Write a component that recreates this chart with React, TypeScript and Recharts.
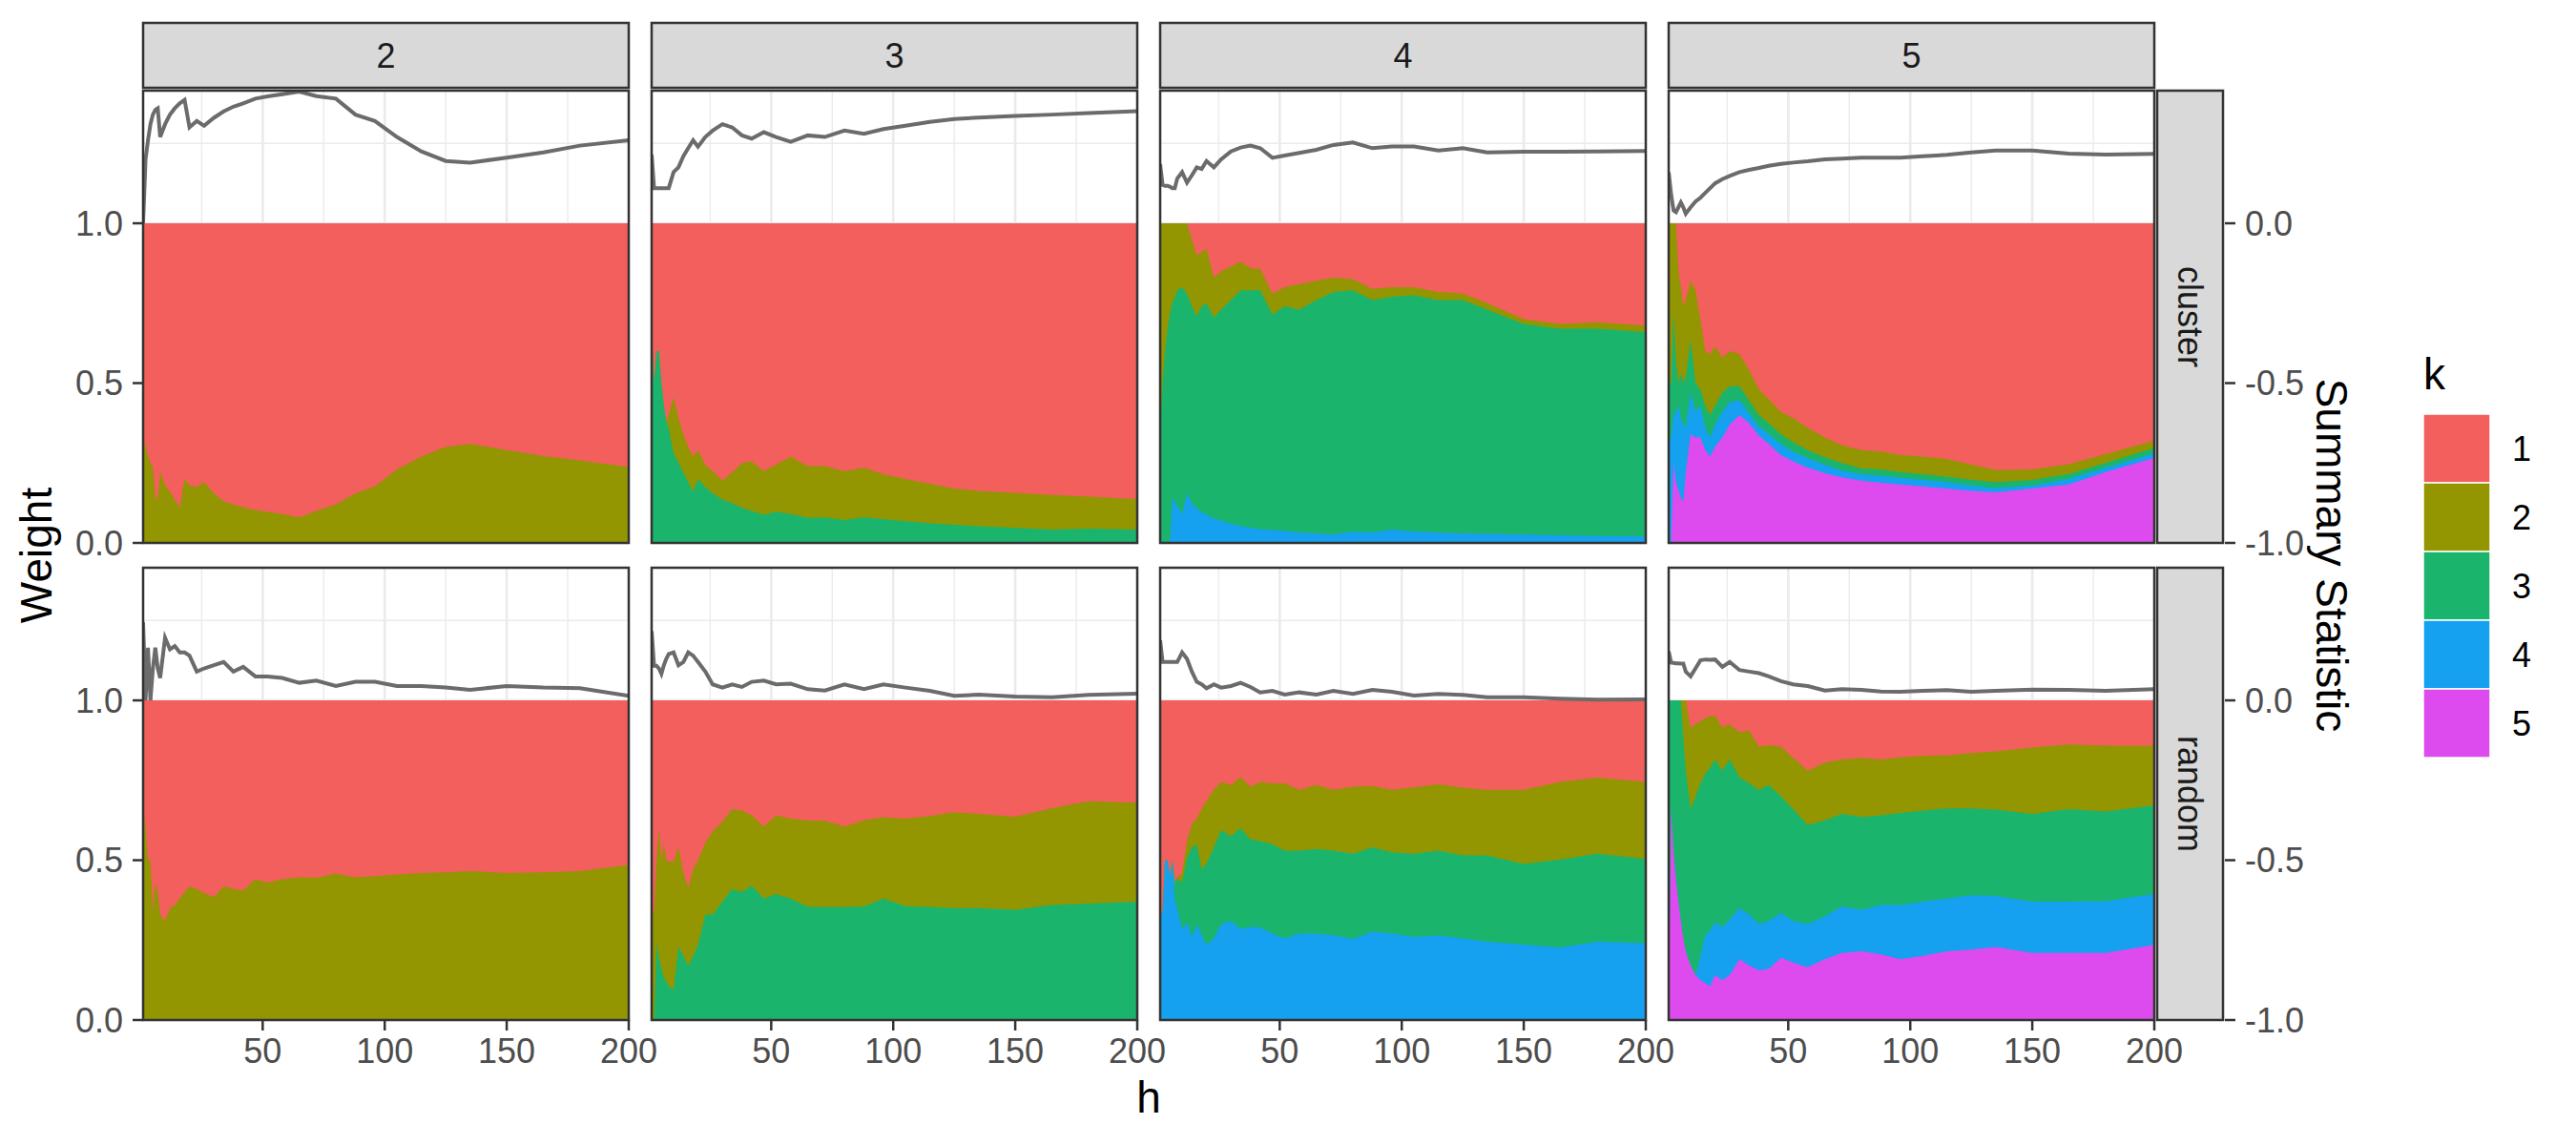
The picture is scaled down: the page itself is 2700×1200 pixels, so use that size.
import { Area, CartesianGrid, ComposedChart, Line, XAxis, YAxis } from "recharts";

// h values sampled along each curve
const hValues = [1, 2, 3, 4, 5, 6, 7, 8, 10, 12, 14, 16, 18, 20, 23, 26, 30, 34, 38, 42, 47, 52, 58, 65, 72, 80, 88, 96, 105, 115, 125, 135, 150, 165, 180, 200];

const facetModels = [2, 3, 4, 5];
const designs = ["cluster", "random"];
const kLevels = ["1", "2", "3", "4", "5"];
const kColors = ["#F25F5C", "#939600", "#1BB46C", "#16A0F0", "#DD4BEE"];

const weightTicks = [0, 0.5, 1];
const statTicks = [-1, -0.5, 0];
const hTicks = [50, 100, 150, 200];

// cumulative weight of k >= j (top edge of layer j), per design and model count
const cluster2Cum2 = [0.337, 0.3, 0.27, 0.25, 0.235, 0.143, 0.135, 0.223, 0.18, 0.16, 0.135, 0.11, 0.2, 0.18, 0.175, 0.19, 0.155, 0.13, 0.12, 0.112, 0.103, 0.097, 0.09, 0.08, 0.1, 0.12, 0.155, 0.177, 0.23, 0.27, 0.3, 0.31, 0.29, 0.272, 0.258, 0.237];
const cluster2Stat = [0.0, 0.2, 0.26, 0.31, 0.34, 0.355, 0.36, 0.27, 0.31, 0.34, 0.36, 0.375, 0.386, 0.3, 0.32, 0.305, 0.33, 0.35, 0.365, 0.375, 0.39, 0.397, 0.404, 0.412, 0.398, 0.39, 0.34, 0.32, 0.27, 0.225, 0.195, 0.19, 0.205, 0.222, 0.243, 0.26];

const cluster3Cum2 = [0.666, 0.5, 0.6, 0.6, 0.5, 0.43, 0.38, 0.4, 0.455, 0.39, 0.34, 0.3, 0.27, 0.29, 0.245, 0.225, 0.195, 0.22, 0.25, 0.255, 0.225, 0.245, 0.27, 0.24, 0.24, 0.225, 0.235, 0.215, 0.2, 0.185, 0.17, 0.163, 0.157, 0.15, 0.145, 0.137];
const cluster3Cum3 = [0.666, 0.5, 0.6, 0.6, 0.5, 0.43, 0.38, 0.36, 0.28, 0.25, 0.22, 0.19, 0.16, 0.2, 0.175, 0.155, 0.135, 0.125, 0.11, 0.1, 0.088, 0.098, 0.09, 0.078, 0.08, 0.072, 0.08, 0.075, 0.068, 0.062, 0.057, 0.052, 0.047, 0.042, 0.045, 0.042];
const cluster3Stat = [0.215, 0.11, 0.11, 0.11, 0.11, 0.11, 0.11, 0.11, 0.16, 0.175, 0.21, 0.235, 0.26, 0.24, 0.27, 0.29, 0.31, 0.3, 0.275, 0.265, 0.285, 0.27, 0.255, 0.275, 0.27, 0.29, 0.28, 0.295, 0.305, 0.317, 0.326, 0.331, 0.336, 0.34, 0.345, 0.351];

const cluster4Cum2 = [1, 1, 1, 1, 1, 1, 1, 1, 1, 1, 0.95, 0.9, 0.91, 0.92, 0.83, 0.85, 0.865, 0.88, 0.86, 0.857, 0.78, 0.8, 0.81, 0.82, 0.83, 0.825, 0.795, 0.8, 0.8, 0.785, 0.78, 0.75, 0.7, 0.685, 0.69, 0.68];
const cluster4Cum3 = [0.33, 0.5, 0.6, 0.67, 0.72, 0.75, 0.77, 0.79, 0.8, 0.78, 0.74, 0.71, 0.74, 0.75, 0.705, 0.73, 0.76, 0.79, 0.79, 0.79, 0.715, 0.74, 0.73, 0.76, 0.785, 0.79, 0.76, 0.77, 0.775, 0.76, 0.76, 0.73, 0.685, 0.67, 0.67, 0.66];
const cluster4Cum4 = [0, 0, 0, 0, 0, 0.142, 0.13, 0.115, 0.09, 0.154, 0.125, 0.108, 0.097, 0.088, 0.076, 0.07, 0.06, 0.053, 0.047, 0.043, 0.04, 0.037, 0.033, 0.03, 0.026, 0.035, 0.033, 0.042, 0.036, 0.032, 0.03, 0.028, 0.026, 0.024, 0.022, 0.02];
const cluster4Stat = [0.185, 0.12, 0.117, 0.117, 0.115, 0.11, 0.11, 0.14, 0.16, 0.127, 0.15, 0.175, 0.17, 0.195, 0.175, 0.2, 0.225, 0.237, 0.243, 0.235, 0.205, 0.212, 0.22, 0.23, 0.245, 0.253, 0.235, 0.24, 0.24, 0.228, 0.235, 0.222, 0.224, 0.224, 0.225, 0.226];

const cluster5Cum2 = [1, 1, 1, 1, 0.85, 0.8, 0.74, 0.76, 0.82, 0.79, 0.7, 0.6, 0.59, 0.615, 0.58, 0.6, 0.59, 0.54, 0.48, 0.45, 0.41, 0.39, 0.36, 0.33, 0.305, 0.29, 0.286, 0.275, 0.27, 0.262, 0.245, 0.228, 0.23, 0.246, 0.278, 0.32];
const cluster5Cum3 = [0.5, 0.5, 0.72, 0.57, 0.5, 0.53, 0.5, 0.52, 0.635, 0.5, 0.48, 0.43, 0.4, 0.43, 0.47, 0.49, 0.49, 0.445, 0.4, 0.375, 0.34, 0.315, 0.29, 0.268, 0.25, 0.233, 0.23, 0.222, 0.215, 0.207, 0.198, 0.19, 0.197, 0.216, 0.25, 0.297];
const cluster5Cum4 = [0.33, 0.33, 0.4, 0.41, 0.43, 0.39, 0.37, 0.36, 0.47, 0.41, 0.43, 0.36, 0.33, 0.37, 0.41, 0.44, 0.446, 0.405, 0.365, 0.34, 0.31, 0.285, 0.265, 0.245, 0.227, 0.215, 0.21, 0.204, 0.198, 0.19, 0.18, 0.172, 0.18, 0.2, 0.235, 0.28];
const cluster5Cum5 = [0, 0, 0.25, 0.19, 0.165, 0.14, 0.13, 0.22, 0.34, 0.33, 0.33, 0.29, 0.27, 0.3, 0.33, 0.37, 0.4, 0.375, 0.335, 0.31, 0.275, 0.255, 0.235, 0.218, 0.205, 0.195, 0.188, 0.183, 0.177, 0.17, 0.163, 0.158, 0.17, 0.183, 0.222, 0.266];
const cluster5Stat = [0.16, 0.09, 0.04, 0.035, 0.05, 0.065, 0.05, 0.03, 0.05, 0.068, 0.08, 0.095, 0.11, 0.125, 0.138, 0.148, 0.16, 0.167, 0.173, 0.18, 0.186, 0.19, 0.194, 0.2, 0.202, 0.205, 0.205, 0.205, 0.21, 0.214, 0.222, 0.228, 0.228, 0.218, 0.215, 0.217];

const random2Cum2 = [0.669, 0.6, 0.5, 0.5, 0.34, 0.43, 0.4, 0.33, 0.31, 0.35, 0.36, 0.38, 0.4, 0.418, 0.41, 0.397, 0.384, 0.418, 0.41, 0.405, 0.44, 0.43, 0.44, 0.446, 0.445, 0.458, 0.446, 0.45, 0.455, 0.46, 0.462, 0.466, 0.46, 0.462, 0.466, 0.485];
const random2Stat = [0.245, 0.0, 0.165, 0.0, 0.1, 0.165, 0.1, 0.07, 0.196, 0.16, 0.17, 0.15, 0.15, 0.14, 0.09, 0.1, 0.11, 0.12, 0.09, 0.105, 0.075, 0.075, 0.07, 0.055, 0.062, 0.045, 0.058, 0.058, 0.045, 0.045, 0.04, 0.033, 0.045, 0.04, 0.038, 0.014];

const random3Cum2 = [0.335, 0.335, 0.5, 0.6, 0.5, 0.55, 0.5, 0.495, 0.495, 0.54, 0.46, 0.414, 0.47, 0.5, 0.554, 0.59, 0.62, 0.66, 0.655, 0.64, 0.605, 0.64, 0.63, 0.624, 0.624, 0.605, 0.625, 0.634, 0.63, 0.638, 0.65, 0.645, 0.636, 0.663, 0.684, 0.68];
const random3Cum3 = [0, 0, 0.24, 0.195, 0.16, 0.135, 0.12, 0.105, 0.095, 0.23, 0.2, 0.17, 0.2, 0.235, 0.33, 0.33, 0.37, 0.41, 0.4, 0.42, 0.38, 0.394, 0.38, 0.354, 0.354, 0.354, 0.355, 0.38, 0.356, 0.354, 0.35, 0.35, 0.345, 0.36, 0.364, 0.37];
const random3Stat = [0.217, 0.108, 0.108, 0.1, 0.083, 0.11, 0.13, 0.145, 0.15, 0.11, 0.12, 0.15, 0.14, 0.12, 0.09, 0.05, 0.04, 0.05, 0.042, 0.058, 0.062, 0.05, 0.052, 0.035, 0.031, 0.05, 0.035, 0.05, 0.04, 0.03, 0.014, 0.018, 0.012, 0.01, 0.017, 0.021];

const random4Cum2 = [0.334, 0.334, 0.5, 0.5, 0.45, 0.5, 0.43, 0.444, 0.46, 0.56, 0.614, 0.63, 0.66, 0.685, 0.72, 0.745, 0.735, 0.76, 0.73, 0.745, 0.74, 0.74, 0.72, 0.735, 0.72, 0.73, 0.732, 0.72, 0.728, 0.737, 0.727, 0.72, 0.72, 0.745, 0.758, 0.745];
const random4Cum3 = [0.334, 0.334, 0.5, 0.5, 0.45, 0.5, 0.43, 0.444, 0.43, 0.51, 0.54, 0.55, 0.47, 0.49, 0.54, 0.594, 0.575, 0.6, 0.565, 0.56, 0.55, 0.53, 0.53, 0.535, 0.53, 0.52, 0.54, 0.525, 0.52, 0.53, 0.515, 0.515, 0.488, 0.502, 0.52, 0.504];
const random4Cum4 = [0.334, 0.334, 0.5, 0.5, 0.45, 0.5, 0.374, 0.35, 0.284, 0.304, 0.26, 0.3, 0.265, 0.234, 0.255, 0.3, 0.31, 0.285, 0.29, 0.29, 0.27, 0.255, 0.27, 0.27, 0.265, 0.254, 0.276, 0.27, 0.26, 0.264, 0.255, 0.245, 0.236, 0.227, 0.245, 0.24];
const random4Stat = [0.188, 0.12, 0.12, 0.12, 0.12, 0.12, 0.12, 0.12, 0.15, 0.13, 0.09, 0.058, 0.05, 0.038, 0.05, 0.04, 0.045, 0.055, 0.042, 0.025, 0.03, 0.018, 0.025, 0.018, 0.03, 0.02, 0.033, 0.027, 0.015, 0.02, 0.017, 0.01, 0.01, 0.005, 0.002, 0.003];

const random5Cum2 = [1, 1, 1, 1, 1, 1, 1, 1, 0.915, 0.925, 0.935, 0.945, 0.95, 0.953, 0.915, 0.925, 0.9, 0.905, 0.855, 0.86, 0.855, 0.82, 0.78, 0.805, 0.815, 0.82, 0.815, 0.822, 0.826, 0.828, 0.835, 0.84, 0.852, 0.862, 0.858, 0.858];
const random5Cum3 = [1, 1, 1, 1, 1, 1, 0.88, 0.78, 0.66, 0.7, 0.74, 0.77, 0.79, 0.815, 0.78, 0.816, 0.76, 0.74, 0.72, 0.735, 0.7, 0.66, 0.61, 0.625, 0.645, 0.635, 0.64, 0.648, 0.655, 0.662, 0.662, 0.658, 0.645, 0.66, 0.652, 0.672];
const random5Cum4 = [0, 0.666, 0.52, 0.44, 0.37, 0.31, 0.255, 0.215, 0.17, 0.14, 0.2, 0.265, 0.28, 0.305, 0.29, 0.314, 0.35, 0.33, 0.3, 0.31, 0.335, 0.31, 0.3, 0.325, 0.355, 0.345, 0.36, 0.36, 0.37, 0.38, 0.39, 0.388, 0.37, 0.37, 0.372, 0.394];
const random5Cum5 = [0, 0.666, 0.52, 0.44, 0.37, 0.31, 0.255, 0.215, 0.17, 0.14, 0.125, 0.115, 0.105, 0.14, 0.125, 0.14, 0.19, 0.17, 0.155, 0.16, 0.195, 0.18, 0.165, 0.19, 0.21, 0.215, 0.205, 0.19, 0.2, 0.215, 0.22, 0.228, 0.21, 0.21, 0.21, 0.235];
const random5Stat = [0.153, 0.118, 0.117, 0.116, 0.116, 0.115, 0.115, 0.09, 0.075, 0.1, 0.125, 0.128, 0.127, 0.128, 0.105, 0.12, 0.095, 0.09, 0.085, 0.075, 0.06, 0.05, 0.045, 0.031, 0.035, 0.033, 0.028, 0.027, 0.03, 0.032, 0.027, 0.03, 0.034, 0.033, 0.03, 0.035];

type Panel = { design: string; models: number; cum: Record<number, number[]>; stat: number[] };

const panels: Panel[] = [
  { design: "cluster", models: 2, cum: { 2: cluster2Cum2 }, stat: cluster2Stat },
  { design: "cluster", models: 3, cum: { 2: cluster3Cum2, 3: cluster3Cum3 }, stat: cluster3Stat },
  { design: "cluster", models: 4, cum: { 2: cluster4Cum2, 3: cluster4Cum3, 4: cluster4Cum4 }, stat: cluster4Stat },
  { design: "cluster", models: 5, cum: { 2: cluster5Cum2, 3: cluster5Cum3, 4: cluster5Cum4, 5: cluster5Cum5 }, stat: cluster5Stat },
  { design: "random", models: 2, cum: { 2: random2Cum2 }, stat: random2Stat },
  { design: "random", models: 3, cum: { 2: random3Cum2, 3: random3Cum3 }, stat: random3Stat },
  { design: "random", models: 4, cum: { 2: random4Cum2, 3: random4Cum3, 4: random4Cum4 }, stat: random4Stat },
  { design: "random", models: 5, cum: { 2: random5Cum2, 3: random5Cum3, 4: random5Cum4, 5: random5Cum5 }, stat: random5Stat },
];

// layout (px)
const FONT = '"Liberation Sans", Arial, Helvetica, sans-serif';
const colX = [150, 683, 1216, 1749];
const rowY = [95, 595];
const PW = 509;
const PH = 474;
const STRIP = 69;
const INK = "#333333";
const TICK_TEXT = "#4D4D4D";

function buildRows(p: Panel) {
  return hValues.map((h, i) => {
    const row: Record<string, number> = { h, c1: 1, stat: p.stat[i] };
    Object.keys(p.cum).forEach((k) => {
      row[`c${k}`] = p.cum[Number(k)][i];
    });
    return row;
  });
}

function StatTick(props: any) {
  const { x, y, payload } = props;
  return (
    <g>
      <line x1={x + STRIP + 5} x2={x + STRIP + 16} y1={y} y2={y} stroke={INK} strokeWidth={2.5} />
      <text x={x + STRIP + 26} y={y} dominantBaseline="central" fontSize={36} fill={TICK_TEXT}>
        {Number(payload.value).toFixed(1)}
      </text>
    </g>
  );
}

function FacetPanel({ panel, col, row }: { panel: Panel; col: number; row: number }) {
  const leftW = col === 0 ? 130 : 0;
  const rightW = col === 3 ? 200 : 0;
  const marginRight = 40;
  // room below the top row so the tick labels at the bottom edge are not clipped
  const marginBottom = row === 0 ? 30 : 0;
  const bottomH = row === 1 ? 70 : 0;
  const width = leftW + PW + rightW + marginRight;
  const height = PH + bottomH + marginBottom;
  const data = buildRows(panel);
  const layers = kLevels.slice(0, panel.models);

  return (
    <div style={{ position: "absolute", left: colX[col] - leftW, top: rowY[row], width, height }}>
      <ComposedChart
        width={width}
        height={height}
        data={data}
        margin={{ top: 0, right: marginRight, bottom: marginBottom, left: 0 }}
      >
        <CartesianGrid stroke="#EBEBEB" strokeWidth={1.4} verticalValues={[25, 75, 125, 175]} horizontalValues={[0.25, 0.75, 1.25]} />
        <CartesianGrid stroke="#EBEBEB" strokeWidth={2.7} verticalValues={[50, 100, 150]} horizontalValues={[0, 0.5, 1]} />
        <XAxis
          type="number"
          dataKey="h"
          domain={[1, 200]}
          allowDataOverflow
          ticks={hTicks}
          interval={0}
          hide={row === 0}
          height={bottomH}
          axisLine={false}
          tickSize={11}
          tickMargin={8}
          tickLine={{ stroke: INK, strokeWidth: 2.5 }}
          tick={{ fontSize: 36, fill: TICK_TEXT }}
        />
        <YAxis
          type="number"
          domain={[0, 1.415]}
          allowDataOverflow
          ticks={weightTicks}
          interval={0}
          hide={col !== 0}
          width={leftW}
          axisLine={false}
          tickSize={11}
          tickMargin={10}
          tickLine={{ stroke: INK, strokeWidth: 2.5 }}
          tick={{ fontSize: 36, fill: TICK_TEXT }}
          tickFormatter={(v: number) => v.toFixed(1)}
        />
        <YAxis
          yAxisId="stat"
          orientation="right"
          type="number"
          domain={[-1, 0.415]}
          allowDataOverflow
          ticks={statTicks}
          interval={0}
          hide={col !== 3}
          width={rightW}
          axisLine={false}
          tickLine={false}
          tickSize={0}
          tickMargin={0}
          tick={<StatTick />}
        />
        {layers.map((k, i) => (
          <Area
            key={k}
            type="linear"
            dataKey={`c${k}`}
            fill={kColors[i]}
            fillOpacity={1}
            stroke="none"
            dot={false}
            activeDot={false}
            isAnimationActive={false}
          />
        ))}
        <Line
          yAxisId="stat"
          type="linear"
          dataKey="stat"
          stroke="#6B6B6B"
          strokeWidth={4}
          dot={false}
          activeDot={false}
          isAnimationActive={false}
        />
      </ComposedChart>
    </div>
  );
}

function Overlay() {
  const stripRight = colX[3] + PW + 3;
  return (
    <svg
      width={2700}
      height={1200}
      style={{ position: "absolute", left: 0, top: 0, pointerEvents: "none", fontFamily: FONT }}
    >
      {rowY.map((y) =>
        colX.map((x) => (
          <rect key={`${x}-${y}`} x={x} y={y} width={PW} height={PH} fill="none" stroke={INK} strokeWidth={2.5} />
        ))
      )}
      {facetModels.map((m, c) => (
        <g key={m}>
          <rect x={colX[c]} y={24} width={PW} height={68} fill="#D9D9D9" stroke={INK} strokeWidth={2.5} />
          <text x={colX[c] + PW / 2} y={58} textAnchor="middle" dominantBaseline="central" fontSize={36} fill="#1A1A1A">
            {m}
          </text>
        </g>
      ))}
      {designs.map((d, r) => (
        <g key={d}>
          <rect x={stripRight} y={rowY[r]} width={STRIP} height={PH} fill="#D9D9D9" stroke={INK} strokeWidth={2.5} />
          <text
            x={stripRight + STRIP / 2}
            y={rowY[r] + PH / 2}
            textAnchor="middle"
            dominantBaseline="central"
            fontSize={36}
            fill="#1A1A1A"
            transform={`rotate(90, ${stripRight + STRIP / 2}, ${rowY[r] + PH / 2})`}
          >
            {d}
          </text>
        </g>
      ))}
      <text x={38} y={582} textAnchor="middle" dominantBaseline="central" fontSize={46} fill="#000" transform="rotate(-90, 38, 582)">
        Weight
      </text>
      <text x={1204} y={1150} textAnchor="middle" dominantBaseline="central" fontSize={46} fill="#000">
        h
      </text>
      <text x={2444} y={582} textAnchor="middle" dominantBaseline="central" fontSize={46} fill="#000" transform="rotate(90, 2444, 582)">
        Summary Statistic
      </text>
      <text x={2540} y={408} fontSize={46} fill="#000">
        k
      </text>
      {kLevels.map((k, i) => (
        <g key={k}>
          <rect x={2540} y={434 + i * 72} width={70} height={72} fill={kColors[i]} stroke="#FFFFFF" strokeWidth={1.5} />
          <text x={2633} y={434 + i * 72 + 36} dominantBaseline="central" fontSize={36} fill="#000">
            {k}
          </text>
        </g>
      ))}
    </svg>
  );
}

export default function App() {
  return (
    <div style={{ position: "absolute", left: 0, top: 0, width: 2700, height: 1200, background: "#FFFFFF", fontFamily: FONT }}>
      {panels.map((p, i) => (
        <FacetPanel key={i} panel={p} col={i % 4} row={Math.floor(i / 4)} />
      ))}
      <Overlay />
    </div>
  );
}
